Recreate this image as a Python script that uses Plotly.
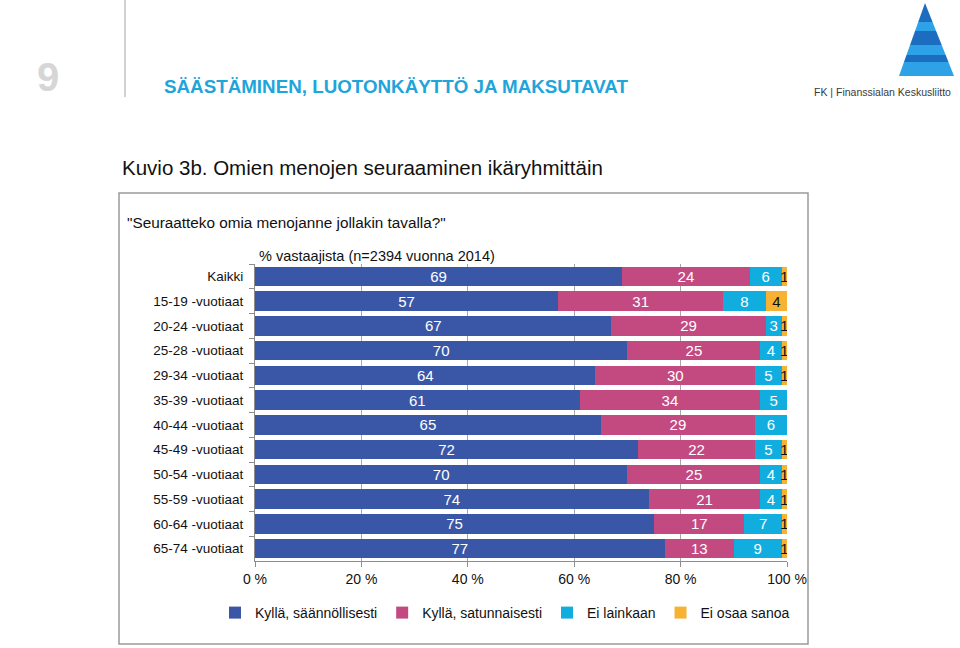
import plotly.graph_objects as go

categories = ["Kaikki", "15-19 -vuotiaat", "20-24 -vuotiaat", "25-28 -vuotiaat",
              "29-34 -vuotiaat", "35-39 -vuotiaat", "40-44 -vuotiaat", "45-49 -vuotiaat",
              "50-54 -vuotiaat", "55-59 -vuotiaat", "60-64 -vuotiaat", "65-74 -vuotiaat"]
saannollisesti = [69, 57, 67, 70, 64, 61, 65, 72, 70, 74, 75, 77]
satunnaisesti = [24, 31, 29, 25, 30, 34, 29, 22, 25, 21, 17, 13]
ei_lainkaan = [6, 8, 3, 4, 5, 5, 6, 5, 4, 4, 7, 9]
ei_osaa = [1, 4, 1, 1, 1, 0, 0, 1, 1, 1, 1, 1]

series_names = ["Kyllä, säännöllisesti", "Kyllä, satunnaisesti", "Ei lainkaan", "Ei osaa sanoa"]
series_values = [saannollisesti, satunnaisesti, ei_lainkaan, ei_osaa]
x_ticks = [0, 20, 40, 60, 80, 100]
x_tick_labels = ["0 %", "20 %", "40 %", "60 %", "80 %", "100 %"]

colors = ["#3a57a7", "#c24a80", "#12addf", "#f7b234"]
text_colors = ["white", "white", "white", "#111111"]

W, H = 960, 648
L, R, T, B = 255, 173, 264, 87
FONT = "Liberation Sans, Arial, sans-serif"


def px_x(px):
    return (px - L) / (W - L - R)


def px_y(py):
    return (H - B - py) / (H - T - B)


fig = go.Figure()
for name, vals, col, tc in zip(series_names, series_values, colors, text_colors):
    fig.add_trace(go.Bar(
        y=categories, x=vals, name=name, orientation="h",
        marker=dict(color=col, line=dict(width=0)),
        text=[str(v) if v else "" for v in vals],
        textposition="inside", insidetextanchor="middle",
        constraintext="none", textangle=0,
        textfont=dict(color=tc, size=15, family=FONT),
        hoverinfo="x+y+name",
    ))

shapes = []
# outer chart box
shapes.append(dict(type="rect", xref="paper", yref="paper",
                   x0=px_x(119), x1=px_x(808), y0=px_y(644), y1=px_y(193),
                   line=dict(color="#9a9a9a", width=1.5), layer="below"))
# header separator
shapes.append(dict(type="line", xref="paper", yref="paper",
                   x0=px_x(125), x1=px_x(125), y0=px_y(97), y1=px_y(0),
                   line=dict(color="#d2d2d2", width=2)))
# logo: stylised pyramid made of bands
apex = (925, 3)
bl, br = (899, 76), (954, 76)


def edge_x(py, left=True):
    t = (py - apex[1]) / (bl[1] - apex[1])
    if left:
        return apex[0] + t * (bl[0] - apex[0])
    return apex[0] + t * (br[0] - apex[0])


bands = [(3, 22, "#1c6cc0"), (22, 31, "#2ea2e6"), (31, 45, "#1c6cc0"),
         (45, 55, "#2ea2e6"), (55, 62, "#1c6cc0"), (62, 76, "#2ea2e6")]
for y0b, y1b, c in bands:
    xa, xb = edge_x(y0b, True), edge_x(y0b, False)
    xc, xd = edge_x(y1b, False), edge_x(y1b, True)
    path = "M {},{} L {},{} L {},{} L {},{} Z".format(
        px_x(xa), px_y(y0b), px_x(xb), px_y(y0b), px_x(xc), px_y(y1b), px_x(xd), px_y(y1b))
    shapes.append(dict(type="path", xref="paper", yref="paper", path=path,
                       fillcolor=c, line=dict(width=0)))

annotations = [
    dict(text="<b>9</b>", x=px_x(48), y=px_y(77), xanchor="center", yanchor="middle",
         font=dict(size=40, color="#d6d6d6", family=FONT)),
    dict(text="<b>SÄÄSTÄMINEN, LUOTONKÄYTTÖ JA MAKSUTAVAT</b>", x=px_x(162), y=px_y(87),
         xanchor="left", yanchor="middle", font=dict(size=18.8, color="#1ea5da", family=FONT)),
    dict(text="FK | Finanssialan Keskusliitto", x=px_x(953), y=px_y(92),
         xanchor="right", yanchor="middle", font=dict(size=10.5, color="#3a3a3a", family=FONT)),
    dict(text="Kuvio 3b. Omien menojen seuraaminen ikäryhmittäin", x=px_x(120), y=px_y(168),
         xanchor="left", yanchor="middle", font=dict(size=20.5, color="#111111", family=FONT)),
    dict(text="\"Seuraatteko omia menojanne jollakin tavalla?\"", x=px_x(125), y=px_y(222),
         xanchor="left", yanchor="middle", font=dict(size=15.3, color="#111111", family=FONT)),
    dict(text="% vastaajista (n=2394 vuonna 2014)", x=px_x(257), y=px_y(256),
         xanchor="left", yanchor="middle", font=dict(size=14.5, color="#111111", family=FONT)),
]
for a in annotations:
    a.update(xref="paper", yref="paper", showarrow=False)

fig.update_layout(
    width=W, height=H,
    margin=dict(l=L, r=R, t=T, b=B, autoexpand=False),
    barmode="stack", bargap=0.22,
    plot_bgcolor="white", paper_bgcolor="white",
    font=dict(family=FONT, color="#111111", size=13),
    shapes=shapes, annotations=annotations,
    legend=dict(orientation="h", x=px_x(215), xanchor="left", y=px_y(613), yanchor="middle",
                font=dict(size=14, family=FONT), itemwidth=30, traceorder="normal",
                itemclick=False, bgcolor="rgba(0,0,0,0)"),
    showlegend=True,
)
fig.update_xaxes(range=[0, 100], tickvals=x_ticks, ticktext=x_tick_labels,
                 showgrid=True, gridcolor="#a8a8a8", gridwidth=1,
                 showline=True, linecolor="#8c8c8c", linewidth=1,
                 ticks="outside", ticklen=5, tickcolor="#8c8c8c",
                 tickfont=dict(size=14, color="#111111"), zeroline=False, fixedrange=True)
fig.update_yaxes(autorange="reversed", showline=True, linecolor="#8c8c8c", linewidth=1,
                 ticks="outside", ticklen=5, tickcolor="#8c8c8c", tickson="boundaries",
                 tickfont=dict(size=13.5, color="#111111"), showgrid=False, fixedrange=True,
                 ticklabelstandoff=8)

fig.write_html("out.html")
